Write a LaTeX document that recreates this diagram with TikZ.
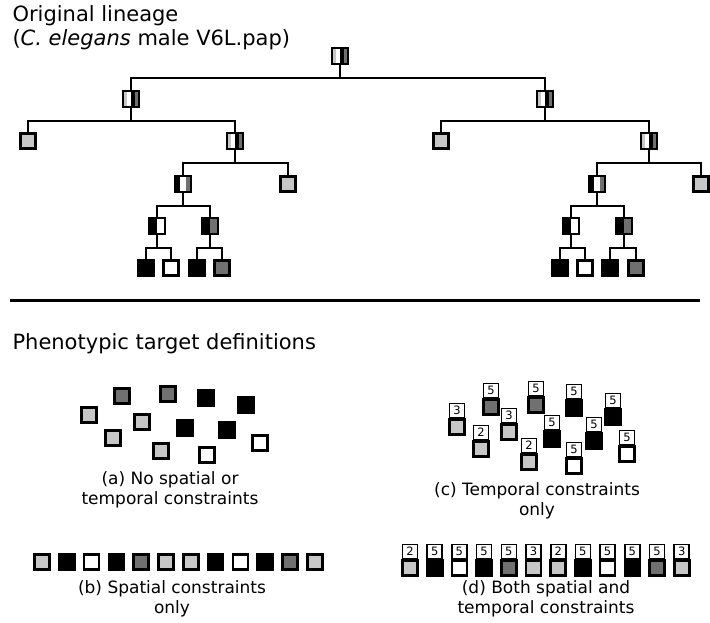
\documentclass[tikz,border=0pt]{standalone}
\usepackage{fontspec}
\setmainfont{DejaVu Sans}
\usepackage{tikz}
\usetikzlibrary{positioning, calc}
\definecolor{fateL}{gray}{0.78}
\definecolor{fateD}{gray}{0.44}
\tikzset{
  cell/.style={draw, line width=2.6pt, minimum size=15pt, inner sep=0pt},
  stripes/.style 2 args={cell, line width=2.2pt, minimum size=15.4pt, path picture={
      \foreach \c [count=\i from 0] in {#2}
        \fill[\c] ($(path picture bounding box.south west)!{\i/#1}!(path picture bounding box.south east)$)
          rectangle ($(path picture bounding box.north west)!{(\i+1)/#1}!(path picture bounding box.north east)$);}},
  stem/.style={line width=2pt},
  numbox/.style={draw, line width=1.6pt, minimum width=15pt, minimum height=14pt, inner sep=0pt,
    font=\fontsize{11.5}{11.5}\selectfont},
  caption/.style={align=center, font=\fontsize{17}{20}\selectfont},
  heading/.style={anchor=base west, font=\fontsize{21}{25}\selectfont}
}

\begin{document}
\begin{tikzpicture}[x=1pt, y=-1pt]
    \useasboundingbox (0,0) rectangle (710,623);
    \node[heading] (title) at (9,22) {Original lineage};
    \node[heading] (species) at (9,46) {(\textit{C. elegans} male V6L.pap)};
    % lineage tree
    \node[stripes={4}{fateL,white,black,fateD}] (P) at (340,56) {};
    \node[stripes={4}{fateL,white,black,fateD}] (L) at (131,99) {};
    \node[stripes={4}{fateL,white,black,fateD}] (R) at (545,99) {};
    \node[cell, fill=fateL] (La) at (28,141) {};
    \node[stripes={4}{fateL,white,black,fateD}] (Lp) at (235,141) {};
    \node[stripes={3}{black,white,fateD}] (Lpa) at (183,184) {};
    \node[cell, fill=fateL] (Lpp) at (288,184) {};
    \node[stripes={2}{black,white}] (Lpaa) at (157,226) {};
    \node[stripes={2}{black,fateD}] (Lpap) at (210,226) {};
    \node[cell, fill=black] (Lpaaa) at (146,268) {};
    \node[cell, fill=white] (Lpaap) at (171,268) {};
    \node[cell, fill=black] (Lpapa) at (197,268) {};
    \node[cell, fill=fateD] (Lpapp) at (222,268) {};
    \node[cell, fill=fateL] (Ra) at (441,141) {};
    \node[stripes={4}{fateL,white,black,fateD}] (Rp) at (649,141) {};
    \node[stripes={3}{black,white,fateD}] (Rpa) at (597,184) {};
    \node[cell, fill=fateL] (Rpp) at (701,184) {};
    \node[stripes={2}{black,white}] (Rpaa) at (571,226) {};
    \node[stripes={2}{black,fateD}] (Rpap) at (624,226) {};
    \node[cell, fill=black] (Rpaaa) at (560,268) {};
    \node[cell, fill=white] (Rpaap) at (585,268) {};
    \node[cell, fill=black] (Rpapa) at (610,268) {};
    \node[cell, fill=fateD] (Rpapp) at (636,268) {};
    \foreach \p/\a/\b in {P/L/R, L/La/Lp, Lp/Lpa/Lpp, Lpa/Lpaa/Lpap, Lpaa/Lpaaa/Lpaap, Lpap/Lpapa/Lpapp,
        R/Ra/Rp, Rp/Rpa/Rpp, Rpa/Rpaa/Rpap, Rpaa/Rpaaa/Rpaap, Rpap/Rpapa/Rpapp} {
      \draw[stem] (\p.south) -- ++(0,13.5) -| (\a.north);
      \draw[stem] (\p.south) -- ++(0,13.5) -| (\b.north);
    }
    \draw[line width=3pt] (10,300) -- (700,300);
    \node[heading] (targets) at (9,349) {Phenotypic target definitions};
    % (a) no constraints
    \foreach \x/\y/\c [count=\i] in {122/396/fateD, 168/394/fateD, 206/398/black, 246/405/black,
        89/415/fateL, 142/422/fateL, 185/428/black, 227/430/black, 113/438/fateL,
        161/451/fateL, 207/455/white, 260/443/white}
      \node[cell, fill=\c] (a\i) at (\x,\y) {};
    \node[caption] (capa) at (170,490) {(a) No spatial or\\temporal constraints};
    % (b) spatial only
    \foreach \c [count=\i from 0] in {fateL,black,white,black,fateD,fateL,fateL,black,white,black,fateD,fateL}
      \node[cell, fill=\c] (b\i) at (42+24.8*\i,562) {};
    \node[caption] (capb) at (172,599) {(b) Spatial constraints\\only};
    % (c) temporal only
    \foreach \x/\y/\c/\n [count=\i] in {457/427/fateL/3, 491/407/fateD/5, 509/432/fateL/3, 536/405/fateD/5,
        574/408/black/5, 613/417/black/5, 481/449/fateL/2, 552/439/black/5, 594/441/black/5,
        529/462/fateL/2, 574/466/white/5, 627/454/white/5} {
      \node[cell, fill=\c] (c\i) at (\x,\y) {};
      \node[numbox, above=0pt of c\i] (cn\i) {\n};
    }
    \node[caption] (capc) at (537,501) {(c) Temporal constraints\\only};
    % (d) both
    \foreach \c/\n [count=\i from 0] in {fateL/2, black/5, white/5, black/5, fateD/5, fateL/3,
        fateL/2, black/5, white/5, black/5, fateD/5, fateL/3} {
      \node[cell, fill=\c] (d\i) at (410+24.7*\i,568) {};
      \node[numbox, above=0pt of d\i] (dn\i) {\n};
    }
    \node[caption] (capd) at (546,599) {(d) Both spatial and\\temporal constraints};
\end{tikzpicture}
\end{document}
